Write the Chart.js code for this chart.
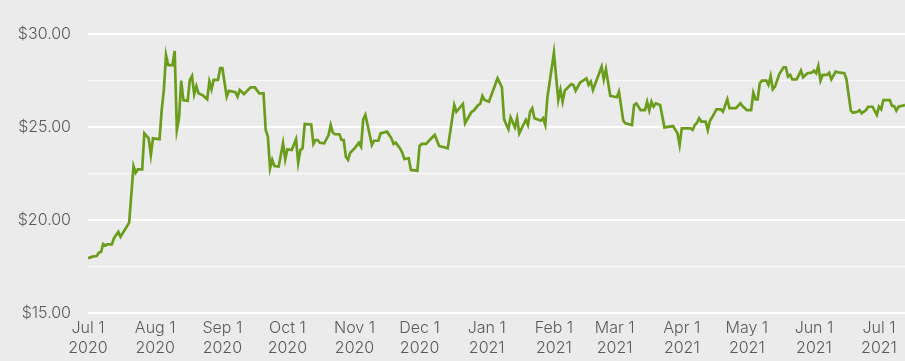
<!DOCTYPE html>
<html>
<head>
<meta charset="utf-8">
<script src="https://cdn.jsdelivr.net/npm/chart.js@4"></script>
<style>
  html, body { margin:0; padding:0; background:#ebebeb; }
  #wrap { width:905px; height:361px; }
</style>
</head>
<body>
<div id="wrap"><canvas id="chart"></canvas></div>
<script>
// days counted from Jul 1 2020
const days = [
  0,2,4,5,6,7,8,9,11,12,14,15,19,21,22,23,25,26,28,29,30,33,34,35,36,37,39,40,
  41,42,43,44,46,47,48,49,50,51,53,55,56,57,58,60,61,62,64,65,68,69,70,72,75,77,
  79,81,82,83,84,85,86,88,90,91,92,94,96,97,98,99,100,103,104,105,106,107,109,111,
  112,113,114,116,117,118,119,120,121,123,125,126,127,128,131,132,134,135,138,140,
  141,142,144,145,146,148,149,152,153,154,156,158,160,162,166,169,170,173,174,177,
  178,180,181,182,183,185,189,191,192,194,195,197,198,199,202,203,204,205,206,209,
  210,211,212,215,217,218,219,220,223,224,225,227,230,231,232,233,237,238,239,241,
  244,245,247,248,251,252,253,255,257,258,259,260,261,262,264,266,270,272,273,274,
  278,279,280,281,282,283,285,286,287,288,290,292,293,295,296,299,301,302,304,306,
  307,308,309,310,311,313,314,315,316,317,319,321,322,323,324,325,327,329,330,332,
  334,335,336,337,338,339,341,342,343,345,347,349,350,352,353,355,356,357,359,360,
  362,364,365,366,367,370,371,372,373,374,377
];
const prices = [
  17.94,18.03,18.06,18.24,18.28,18.71,18.62,18.69,18.69,19.02,19.37,19.10,19.86,22.90,22.54,22.72,22.72,24.66,24.39,23.49,24.39,24.34,25.91,26.99,28.87,28.33,28.33,29.09,
  24.84,25.47,27.49,26.45,26.40,27.53,27.74,26.77,27.20,26.81,26.70,26.49,27.44,27.03,27.53,27.53,28.16,28.16,26.63,26.94,26.87,26.63,26.99,26.77,27.13,27.13,
  26.81,26.81,24.84,24.48,22.78,23.23,22.90,22.87,24.12,23.26,23.80,23.76,24.34,23.08,23.76,23.85,25.16,25.13,24.09,24.30,24.30,24.15,24.12,24.57,
  25.11,24.69,24.61,24.61,24.30,24.30,23.40,23.23,23.62,23.85,24.15,23.94,25.41,25.65,24.03,24.26,24.26,24.66,24.75,24.39,
  24.09,24.16,23.85,23.62,23.28,23.32,22.69,22.65,23.98,24.09,24.09,24.34,24.57,23.98,23.85,26.18,25.82,26.24,25.20,25.82,
  25.88,26.18,26.24,26.67,26.45,26.36,27.62,27.13,25.41,24.88,25.52,24.98,25.47,24.66,25.38,25.11,25.82,26.01,25.47,25.34,
  25.47,25.11,26.60,28.99,26.45,26.99,26.36,26.95,27.31,27.26,26.95,27.38,27.62,27.26,27.44,26.99,28.24,27.56,28.10,26.67,
  26.60,26.90,25.34,25.20,25.11,26.18,26.27,25.91,25.91,26.36,25.88,26.36,26.09,26.27,26.18,24.98,25.05,24.66,24.03,24.93,
  24.93,24.84,25.11,25.23,25.47,25.29,25.29,24.84,25.34,25.52,25.95,25.95,25.82,26.49,26.01,26.01,26.27,26.13,25.91,25.91,
  26.84,26.49,26.49,27.35,27.49,27.49,27.26,27.74,27.03,27.17,27.85,28.21,28.21,27.71,27.80,27.56,27.56,28.03,27.67,27.89,
  27.92,28.03,27.89,28.28,27.49,27.80,27.80,27.92,27.56,27.98,27.92,27.89,27.56,25.88,25.77,25.82,25.91,25.74,25.91,26.09,
  26.09,25.65,26.09,25.95,26.45,26.45,26.13,26.13,25.88,26.09,26.18
];

const monthDays = [0,31,62,92,123,153,184,215,243,274,304,335,365];
const monthLabels = ["Jul 1","Aug 1","Sep 1","Oct 1","Nov 1","Dec 1","Jan 1","Feb 1","Mar 1","Apr 1","May 1","Jun 1","Jul 1"];
const yearLabels = ["2020","2020","2020","2020","2020","2020","2021","2021","2021","2021","2021","2021","2021"];

const textColor = "#5a5a5a";
const font = { family: "Inter, 'Open Sans', sans-serif", size: 16, weight: 300, lineHeight: 1.25 };

new Chart(document.getElementById("chart"), {
  type: "line",
  data: {
    datasets: [{
      data: days.map((d, i) => ({ x: d, y: prices[i] })),
      borderColor: "#6b9d1c",
      borderWidth: 2.7,
      pointRadius: 0,
      tension: 0,
      fill: false
    }]
  },
  options: {
    responsive: true,
    maintainAspectRatio: false,
    animation: false,
    layout: { padding: { top: 34, right: 0, bottom: 0, left: 0 } },
    plugins: { legend: { display: false }, tooltip: { enabled: false } },
    scales: {
      x: {
        type: "linear",
        min: 0,
        max: 377,
        grid: { display: false, drawTicks: false },
        border: { display: false },
        afterBuildTicks: axis => { axis.ticks = monthDays.map(v => ({ value: v })); },
        afterFit: axis => { axis.height = 48; },
        ticks: {
          autoSkip: false,
          maxRotation: 0,
          padding: 5,
          color: textColor,
          font,
          callback: v => {
            const i = monthDays.indexOf(v);
            return i < 0 ? "" : [monthLabels[i], yearLabels[i]];
          }
        }
      },
      y: {
        min: 15,
        max: 30,
        afterFit: axis => { axis.width = 88; },
        grid: {
          drawTicks: false,
          color: c => (c.tick && c.tick.value % 5 === 0) ? "#ffffff" : "#f8f8f8",
          lineWidth: c => (c.tick && c.tick.value % 5 === 0) ? 2 : 1.2
        },
        border: { display: false },
        ticks: {
          stepSize: 2.5,
          padding: 17,
          color: textColor,
          font,
          callback: v => v % 5 === 0 ? "$" + v.toFixed(2) : ""
        }
      }
    }
  }
});
</script>
</body>
</html>
